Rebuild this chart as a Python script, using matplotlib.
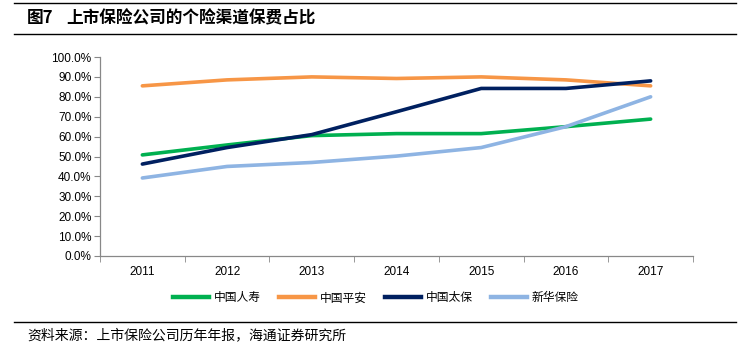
import matplotlib
matplotlib.use("Agg")
import matplotlib.pyplot as plt
from matplotlib.lines import Line2D
import numpy as np

plt.rcParams['font.family'] = ['Liberation Sans', 'Noto Sans CJK SC', 'DejaVu Sans']

years = ["2011", "2012", "2013", "2014", "2015", "2016", "2017"]
series_names = ["中国人寿", "中国平安", "中国太保", "新华保险"]
renshou = [50.8, 55.8, 60.5, 61.5, 61.5, 65.0, 68.8]
pingan = [85.5, 88.5, 90.0, 89.2, 90.0, 88.5, 85.5]
taibao = [46.2, 54.5, 61.0, 72.5, 84.2, 84.2, 88.0]
xinhua = [39.2, 45.0, 47.0, 50.2, 54.5, 65.0, 80.0]
y_ticks = [0, 10, 20, 30, 40, 50, 60, 70, 80, 90, 100]
colors = ["#00B050", "#F79646", "#002060", "#8EB4E3"]

W, H = 748, 351
fig = plt.figure(figsize=(W / 100, H / 100), dpi=100)
ax = fig.add_axes([100 / W, (H - 256) / H, (693 - 100) / W, (256 - 57) / H])

x = np.arange(len(years))
for vals, c, name in zip([renshou, pingan, taibao, xinhua], colors, series_names):
    ax.plot(x, vals, color=c, lw=2.6, solid_capstyle='round', label=name)

ax.set_xlim(-0.5, len(years) - 0.5)
ax.set_ylim(0, 100)
ax.set_yticks(y_ticks)
ax.set_yticklabels([f"{v:.1f}%" for v in y_ticks], fontsize=8.5)
ax.set_xticks(x)
ax.set_xticklabels(years, fontsize=8.5)
ax.tick_params(axis='x', length=0, pad=7)
ax.set_xticks(np.arange(-0.5, len(years)), minor=True)
ax.tick_params(axis='x', which='minor', length=4, color='#888888', direction='out')
ax.tick_params(axis='y', length=4, color='#888888', direction='out', pad=2)
for s in ['top', 'right']:
    ax.spines[s].set_visible(False)
for s in ['left', 'bottom']:
    ax.spines[s].set_color('#888888')
    ax.spines[s].set_linewidth(0.9)

handles = [Line2D([0], [0], color=c, lw=3.2) for c in colors]
fig.legend(handles, series_names, loc='center', bbox_to_anchor=(376 / W, (H - 298) / H),
           ncol=4, frameon=False, handlelength=3.0, columnspacing=1.6,
           handletextpad=0.4, prop={'family': ['Noto Sans CJK SC'], 'size': 8.5})

# title and source decoration
fig.add_artist(Line2D([14 / W, 736 / W], [(H - 3) / H] * 2, color='black', lw=1.0))
fig.add_artist(Line2D([14 / W, 736 / W], [(H - 34) / H] * 2, color='black', lw=1.0))
fig.text(27 / W, (H - 18) / H, "图7", fontsize=12,
         fontweight='bold', va='center', ha='left', family=['Noto Sans CJK SC'])
fig.text(66 / W, (H - 18) / H, "上市保险公司的个险渠道保费占比", fontsize=12,
         fontweight='bold', va='center', ha='left', family=['Noto Sans CJK SC'])
fig.add_artist(Line2D([14 / W, 736 / W], [(H - 322) / H] * 2, color='black', lw=1.0))
fig.text(27 / W, (H - 335) / H, "资料来源：上市保险公司历年年报，海通证券研究所", fontsize=10,
         va='center', ha='left', family=['Noto Sans CJK SC'])

fig.savefig("out.png", dpi=100)
